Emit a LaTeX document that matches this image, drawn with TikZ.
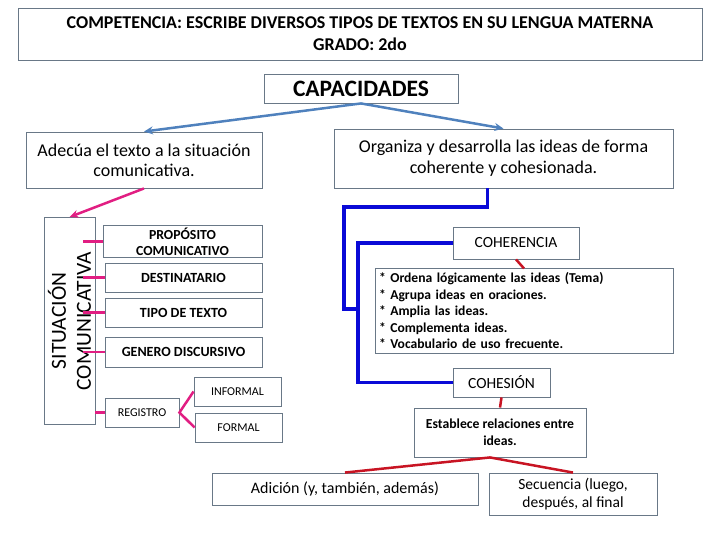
\documentclass[tikz,border=0pt]{standalone}
\usepackage{fontspec}
\setmainfont{Carlito}
\usetikzlibrary{arrows.meta,calc}
\definecolor{marco}{RGB}{105,120,135}
\definecolor{azulcap}{RGB}{79,129,189}
\definecolor{azulfuerte}{RGB}{10,10,215}
\definecolor{rosa}{RGB}{225,30,130}
\definecolor{rojo}{RGB}{200,20,35}

\begin{document}
\begin{tikzpicture}[x=1pt, y=-1pt,
		caja/.style={draw=marco, line width=0.9pt, inner sep=2pt, align=center},
		flechacap/.style={azulcap, line width=2.5pt, -{Stealth[length=9pt, width=8pt]}},
		flecharosa/.style={rosa, line width=2.5pt, -{Stealth[length=9pt, width=8pt]}},
		linearosa/.style={rosa, line width=2.5pt},
		linearoja/.style={rojo, line width=2.5pt},
		lineaazul/.style={azulfuerte, line width=3.5pt}]
	\useasboundingbox (0,0) rectangle (720,540);
	
	% Competencia y capacidades
	\node[caja, minimum width=684pt, minimum height=52pt, font=\fontsize{18}{22}\selectfont\bfseries] (competencia) at (360,34)
		{COMPETENCIA: ESCRIBE DIVERSOS TIPOS DE TEXTOS EN SU LENGUA MATERNA\\GRADO: 2do};
	\node[caja, minimum width=194pt, minimum height=29pt, font=\fontsize{23.5}{24}\selectfont\bfseries] (capacidades) at (361,88.5) {CAPACIDADES};
	
	% Las dos capacidades
	\node[caja, minimum width=236pt, minimum height=56pt, font=\fontsize{18}{20}\selectfont] (adecua) at (144,160)
		{Adecúa el texto a la situación\\comunicativa.};
	\node[caja, minimum width=339pt, minimum height=59pt, font=\fontsize{18}{21}\selectfont] (organiza) at (503.5,158.5)
		{Organiza y desarrolla las ideas de forma\\coherente y cohesionada.};
	\draw[flechacap] (capacidades.south) -- (adecua.north);
	\draw[flechacap] (capacidades.south) -- (organiza.north);
	
	% Situacion comunicativa
	\node[caja, minimum width=207pt, minimum height=51pt, rotate=90, font=\fontsize{21.5}{25}\selectfont] (situacion) at (69.5,321)
		{SITUACIÓN\\COMUNICATIVA};
	\draw[flecharosa] (adecua.south) -- (situacion.east);
	
	\node[caja, minimum width=159pt, minimum height=29pt, font=\fontsize{13.8}{16}\selectfont\bfseries] (proposito) at (182.5,241.5) {PROPÓSITO\\COMUNICATIVO};
	\node[caja, minimum width=157pt, minimum height=29pt, font=\fontsize{14}{16}\selectfont\bfseries] (destinatario) at (183.5,277.5) {DESTINATARIO};
	\node[caja, minimum width=157pt, minimum height=29pt, font=\fontsize{14}{16}\selectfont\bfseries] (tipo) at (183.5,312.5) {TIPO DE TEXTO};
	\node[caja, minimum width=157pt, minimum height=30pt, font=\fontsize{14}{16}\selectfont\bfseries] (genero) at (183.5,352) {GENERO DISCURSIVO};
	\node[caja, minimum width=74pt, minimum height=29pt, font=\fontsize{12}{14}\selectfont] (registro) at (142,412.5) {REGISTRO};
	\node[caja, minimum width=87pt, minimum height=29pt, font=\fontsize{12}{14}\selectfont] (informal) at (237.5,391.5) {INFORMAL};
	\node[caja, minimum width=87pt, minimum height=29pt, font=\fontsize{12}{14}\selectfont] (formal) at (238.5,427.5) {FORMAL};
	
	\coordinate (tope) at (83,0);
	\foreach \n in {proposito,destinatario,tipo,genero}
		\draw[linearosa] (tope |- \n.west) -- (\n.west);
	\draw[linearosa] (situacion.south |- registro.west) -- (registro.west);
	\draw[linearosa] (informal.west) -- (registro.east) -- (formal.west);
	
	% Coherencia y cohesion
	\node[caja, minimum width=126pt, minimum height=32pt, font=\fontsize{15.5}{16}\selectfont] (coherencia) at (516,243) {COHERENCIA};
	\node[caja, inner sep=4pt, text width=290pt, minimum height=82pt, align=left, font=\fontsize{13.6}{16.5}\selectfont\bfseries] (lista) at (524,311)
		{{*} Ordena lógicamente las ideas (Tema)\\{*} Agrupa ideas en oraciones.\\{*} Amplia las ideas.\\{*} Complementa ideas.\\{*} Vocabulario de uso frecuente.};
	\node[caja, minimum width=97pt, minimum height=29pt, font=\fontsize{15.5}{16}\selectfont] (cohesion) at (501.5,382.5) {COHESIÓN};
	\node[caja, minimum width=172pt, minimum height=49pt, font=\fontsize{13.7}{17}\selectfont\bfseries] (establece) at (500,432.5)
		{Establece relaciones entre\\ideas.};
	\node[caja, minimum width=266pt, minimum height=32pt, font=\fontsize{16}{18}\selectfont] (adicion) at (345,489) {Adición (y, también, además)};
	\node[caja, minimum width=168pt, minimum height=42pt, font=\fontsize{15.5}{18}\selectfont] (secuencia) at (573,494)
		{Secuencia (luego,\\después, al final};
	
	\coordinate (codo) at (344,207);
	\coordinate (rama) at (358,309);
	\draw[lineaazul] ([xshift=-16pt]organiza.south) |- (codo) |- (rama);
	\draw[lineaazul] (coherencia.west) -| (rama) |- (cohesion.west);
	
	\draw[linearoja] (coherencia.south) -- (lista.north);
	\draw[linearoja] (cohesion.south) -- (establece.north);
	\draw[linearoja] (adicion.north) -- ([xshift=-10pt]establece.south) -- (secuencia.north);
\end{tikzpicture}
\end{document}
